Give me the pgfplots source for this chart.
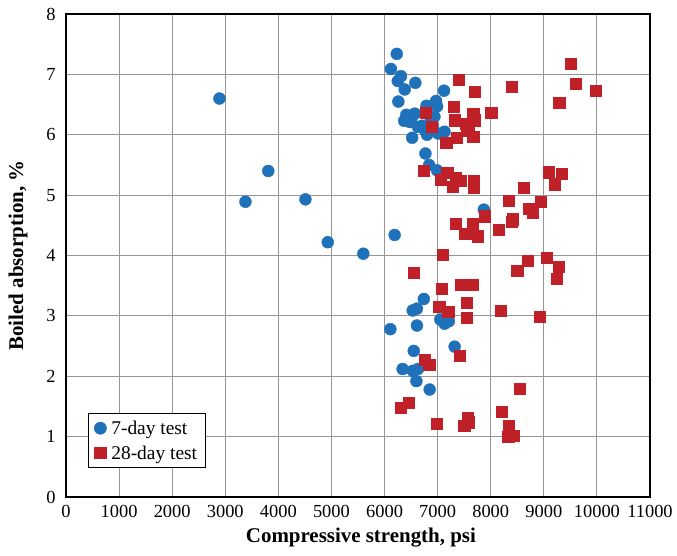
\documentclass[border=0pt]{standalone}
\usepackage{fontspec}
\setmainfont{Liberation Serif}
\usepackage{pgfplots}
\pgfplotsset{compat=1.18}

\definecolor{dayseven}{RGB}{31,113,185}
\definecolor{daytwentyeight}{RGB}{192,32,40}
\definecolor{gridgray}{RGB}{150,150,150}

\begin{document}
\begin{tikzpicture}
\begin{axis}[
    scale only axis,
    width=584bp, height=483bp,
    xmin=0, xmax=11000,
    ymin=0, ymax=8,
    xtick={0,1000,...,11000},
    ytick={0,1,...,8},
    scaled x ticks=false,
    /pgf/number format/1000 sep={},
    /pgf/number format/assume math mode=true,
    major tick length=0pt,
    grid=major,
    major grid style={gridgray, line width=0.9pt},
    axis line style={black, line width=1.4pt},
    tick label style={font=\fontsize{18.5}{18.5}\selectfont},
    yticklabel style={xshift=-7bp},
    xticklabel style={yshift=-5bp},
    label style={font=\bfseries\fontsize{21}{21}\selectfont},
    xlabel={Compressive strength, psi},
    ylabel={Boiled absorption, \%},
    xlabel style={at={(axis description cs:0.505,-0.083)}, anchor=center},
    ylabel style={at={(axis description cs:-0.082,0.5)}, anchor=center},
    legend style={at={(0.0377,0.06)}, anchor=south west,
        draw=black, line width=0.8pt, font=\fontsize{19.5}{19.5}\selectfont,
        inner xsep=6pt, inner ysep=5pt, row sep=6pt,
        /tikz/every odd column/.append style={column sep=3pt}},
    legend cell align=left,
]
\addplot[only marks, mark=*, mark size=6pt, color=dayseven,
    mark options={draw=dayseven, fill=dayseven}] coordinates {
    (2890,6.60)(3810,5.40)(3380,4.89)(4510,4.93)(4930,4.22)(5600,4.03)
    (6190,4.34)(7870,4.76)
    (6230,7.34)(6120,7.09)(6310,6.97)(6250,6.89)(6380,6.75)(6580,6.86)
    (7120,6.73)(6260,6.55)(6970,6.56)(6790,6.48)(6990,6.47)
    (6410,6.33)(6570,6.35)(6370,6.23)(6480,6.21)(6510,6.28)(6630,6.13)
    (6760,6.08)(6910,6.16)(6940,6.30)(6800,6.00)(7010,6.02)(7130,6.05)
    (6520,5.95)(6860,6.30)(6890,6.10)(6710,6.15)
    (6770,5.69)(6840,5.50)(6990,5.41)
    (6740,3.28)(6530,3.09)(6610,3.12)(6610,2.84)(6110,2.78)(7050,2.94)
    (7130,2.87)(7210,2.91)(7320,2.49)(6550,2.42)(6340,2.12)(6530,2.09)
    (6630,2.12)(6600,1.92)(6850,1.78)
};
\addlegendentry{7-day test}
\addplot[only marks, mark=square*, mark size=5.6pt, color=daytwentyeight,
    mark options={draw=daytwentyeight, fill=daytwentyeight, rounded corners=1.5pt}] coordinates {
    (9500,7.18)(7400,6.91)(8390,6.80)(9600,6.84)(9980,6.73)(7700,6.71)
    (9290,6.53)(7300,6.46)(6770,6.36)(8010,6.36)(7670,6.35)(7320,6.24)
    (7700,6.24)(6890,6.13)(7530,6.18)(7580,6.12)(7545,6.07)(7670,5.97)
    (7360,5.95)(7160,5.87)
    (6730,5.41)(7180,5.37)(7060,5.26)(7340,5.29)(7440,5.24)(7280,5.14)
    (7680,5.24)(7680,5.12)(9090,5.38)(9330,5.35)(9200,5.18)(8620,5.13)
    (8340,4.91)(8940,4.89)(8720,4.77)(8790,4.71)(7880,4.65)(8420,4.60)
    (8400,4.56)(7340,4.52)(7660,4.52)(7520,4.36)(7760,4.32)(8150,4.43)
    (7100,4.02)(9060,3.96)(8700,3.92)(6550,3.72)(8500,3.75)(9280,3.81)
    (9240,3.61)(7440,3.51)(7650,3.52)(7070,3.45)(7545,3.22)(7030,3.15)
    (7200,3.07)(8180,3.09)(7545,2.97)(8930,2.98)
    (7410,2.34)(6750,2.28)(6840,2.19)(8545,1.80)(6300,1.48)(6460,1.56)
    (8210,1.41)(6980,1.22)(7570,1.31)(7585,1.24)(7500,1.18)(8340,1.18)
    (8330,1.00)(8440,1.02)
};
\addlegendentry{28-day test}
\end{axis}
\path (current axis.south west) ++(-66bp,-59bp) rectangle ++(677bp,556bp);
\end{tikzpicture}
\end{document}
